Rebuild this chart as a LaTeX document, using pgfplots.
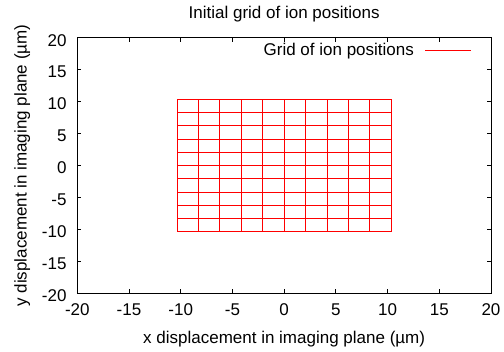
\documentclass[border=0pt]{standalone}
\usepackage{fontspec}
\setmainfont{Liberation Sans}
\usepackage{pgfplots}
\pgfplotsset{compat=1.18}
\newcommand{\fs}{\fontsize{17bp}{20bp}\selectfont}
\begin{document}
\begin{tikzpicture}
\useasboundingbox (0,0) rectangle (504bp,352bp);
\begin{axis}[
  at={(77.3bp,58.7bp)}, anchor=south west,
  scale only axis, width=413.7bp, height=255.6bp,
  xmin=-20, xmax=20, ymin=-20, ymax=20,
  xtick={-20,-15,...,20}, ytick={-20,-15,...,20},
  xticklabels={-20,-15,-10,-5,0,5,10,15,20},
  yticklabels={-20,-15,-10,-5,0,5,10,15,20},
  tick align=inside, major tick length=4bp,
  axis line style={black, line width=0.8bp},
  every tick/.style={black, line width=0.8bp},
  xticklabel style={font=\fs, anchor=base, inner sep=0pt, yshift=-22.4bp},
  yticklabel style={font=\fs, anchor=east, inner sep=0pt, xshift=-10.6bp, yshift=-2.5bp},
  every axis title shift=0pt,
  title={Initial grid of ion positions},
  title style={font=\fs, at={(axis description cs:0.5,1.0759)}, anchor=base, inner sep=0pt},
  xlabel={x displacement in imaging plane (µm)},
  xlabel style={font=\fs, at={(axis description cs:0.5,-0.1956)}, anchor=base, inner sep=0pt},
  ylabel={y displacement in imaging plane (µm)},
  ylabel style={font=\fs, at={(axis description cs:-0.1223,0.5)}, anchor=base, inner sep=0pt},
  legend plot pos=right,
  legend style={draw=none, fill=none, inner sep=0pt, font=\fs,
    at={(axis description cs:0.9540,0.9776)}, anchor=north east,
    nodes={inner sep=0pt, anchor=base}},
  legend image code/.code={\path (0bp,0bp); \draw[#1] (11bp,5.3bp) -- (57bp,5.3bp);},
]
\addplot[red, line width=0.9bp] coordinates {
(-10.35,-10.35)(-10.35,10.35)(-8.28,10.35)(-8.28,-10.35)(-6.21,-10.35)(-6.21,10.35)
(-4.14,10.35)(-4.14,-10.35)(-2.07,-10.35)(-2.07,10.35)(0,10.35)(0,-10.35)
(2.07,-10.35)(2.07,10.35)(4.14,10.35)(4.14,-10.35)(6.21,-10.35)(6.21,10.35)
(8.28,10.35)(8.28,-10.35)(10.35,-10.35)(10.35,10.35)
};
\addlegendentry{Grid of ion positions}
\addplot[red, line width=0.9bp, forget plot] coordinates {
(-10.35,-10.35)(10.35,-10.35)(10.35,-8.28)(-10.35,-8.28)(-10.35,-6.21)(10.35,-6.21)
(10.35,-4.14)(-10.35,-4.14)(-10.35,-2.07)(10.35,-2.07)(10.35,0)(-10.35,0)
(-10.35,2.07)(10.35,2.07)(10.35,4.14)(-10.35,4.14)(-10.35,6.21)(10.35,6.21)
(10.35,8.28)(-10.35,8.28)(-10.35,10.35)(10.35,10.35)
};
\end{axis}
\end{tikzpicture}
\end{document}
